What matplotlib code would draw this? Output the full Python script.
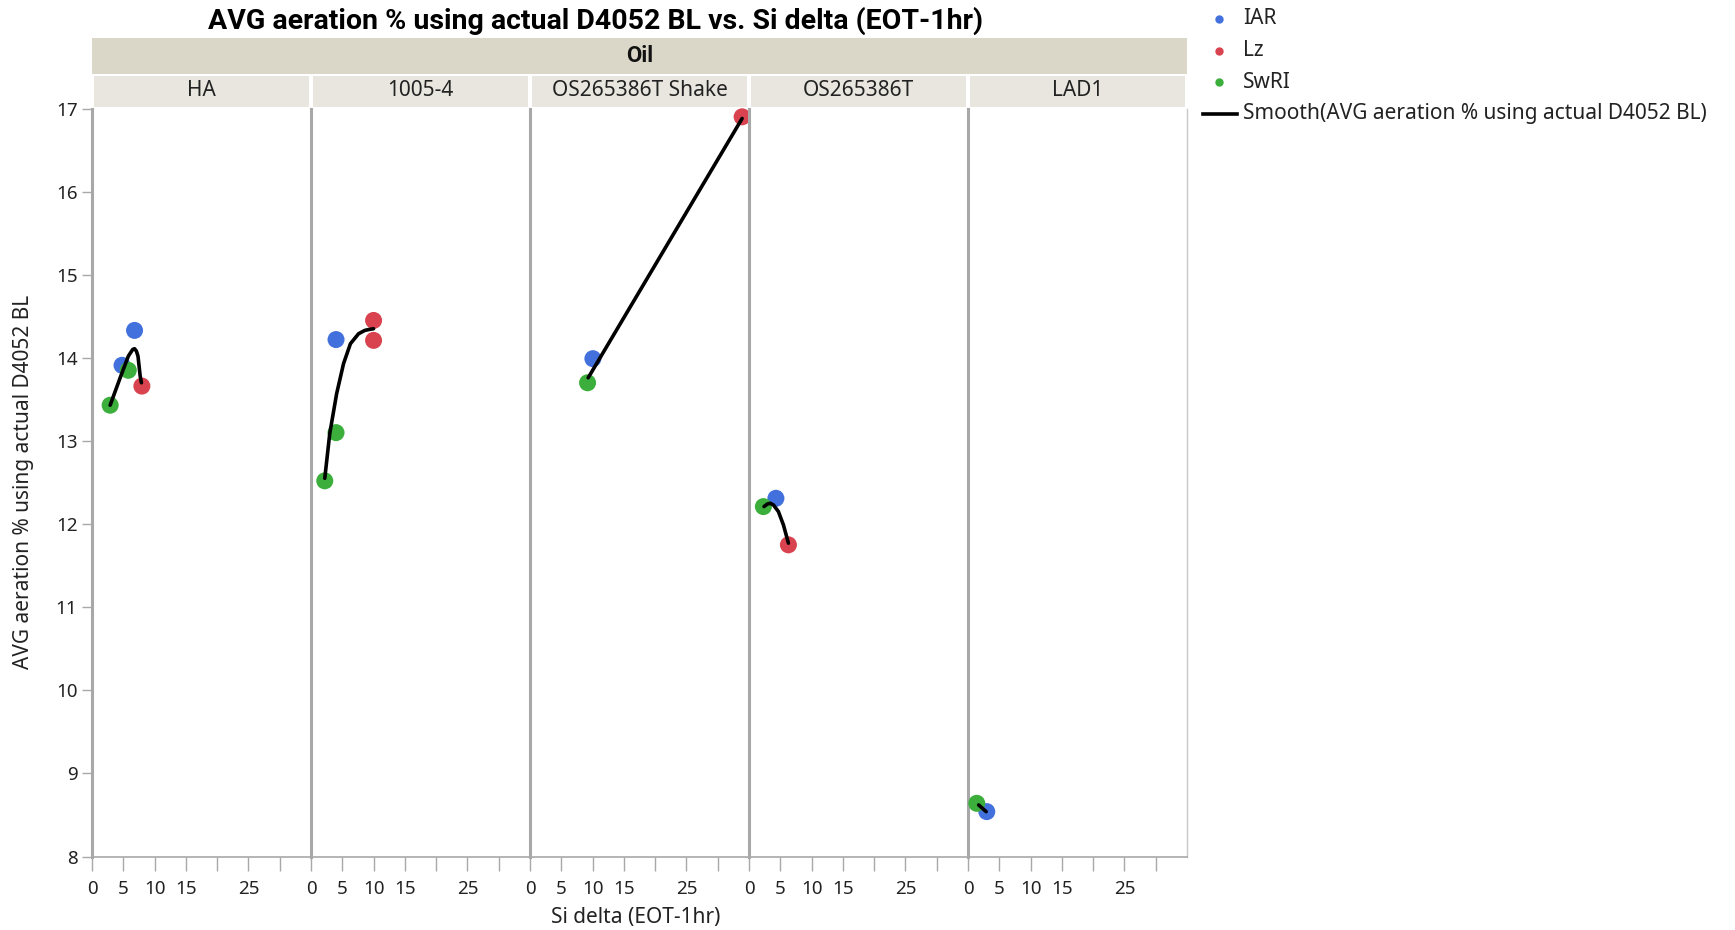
import matplotlib
matplotlib.use("Agg")
import matplotlib.pyplot as plt
from matplotlib.lines import Line2D
from matplotlib.patches import Rectangle
from matplotlib.ticker import FixedLocator

plt.rcParams['font.family'] = ['Noto Sans', 'DejaVu Sans']

# panels (Oil)
panels = ["HA", "1005-4", "OS265386T Shake", "OS265386T", "LAD1"]

# points by site
iar_panel = ["HA", "HA", "1005-4", "OS265386T Shake", "OS265386T", "LAD1"]
iar_x = [4.8, 6.8, 4.0, 10.05, 4.3, 3.0]
iar_y = [13.91, 14.33, 14.22, 13.99, 12.31, 8.54]

lz_panel = ["HA", "1005-4", "1005-4", "OS265386T Shake", "OS265386T"]
lz_x = [7.97, 10.0, 10.0, 33.9, 6.3]
lz_y = [13.66, 14.45, 14.21, 16.90, 11.75]

swri_panel = ["HA", "HA", "1005-4", "1005-4", "OS265386T Shake", "OS265386T", "LAD1"]
swri_x = [2.9, 5.8, 2.2, 4.0, 9.2, 2.3, 1.4]
swri_y = [13.43, 13.85, 12.52, 13.10, 13.70, 12.21, 8.64]

# smooth curve
smooth_ha_x = [2.9, 4.5, 5.8, 6.5, 6.8, 7.1, 7.35, 7.7, 7.9]
smooth_ha_y = [13.43, 13.76, 14.02, 14.10, 14.11, 14.08, 14.02, 13.78, 13.70]
smooth_1005_x = [2.2, 3.0, 4.1, 5.2, 6.3, 7.6, 8.6, 9.2, 10.0]
smooth_1005_y = [12.55, 13.09, 13.57, 13.93, 14.17, 14.29, 14.33, 14.34, 14.35]
smooth_shake_x = [9.3, 33.9]
smooth_shake_y = [13.76, 16.88]
smooth_os_x = [2.4, 2.9, 3.4, 3.9, 4.7, 5.5, 6.3]
smooth_os_y = [12.21, 12.24, 12.25, 12.23, 12.15, 11.99, 11.77]
smooth_lad_x = [1.7, 2.9]
smooth_lad_y = [8.62, 8.54]

smooth_x = [smooth_ha_x, smooth_1005_x, smooth_shake_x, smooth_os_x, smooth_lad_x]
smooth_y = [smooth_ha_y, smooth_1005_y, smooth_shake_y, smooth_os_y, smooth_lad_y]

sites = ["IAR", "Lz", "SwRI"]
site_colors = ["#4270DD", "#D8434F", "#3BAE3B"]

W, H = 1735, 930
fig = plt.figure(figsize=(W / 100, H / 100), dpi=100)


def rect(l, t, r, b):
    return [l / W, 1 - b / H, (r - l) / W, (b - t) / H]


left, right, top, bottom = 92, 1187, 108.5, 856.5
pw = (right - left) / 5
grid = "#A8A8A8"
txt = "#222222"

axes = []
for i, name in enumerate(panels):
    ax = fig.add_axes(rect(left + i * pw, top, left + (i + 1) * pw, bottom))
    ax.set_xlim(0, 35)
    ax.set_ylim(8, 17)
    for s in ["top", "right"]:
        ax.spines[s].set_visible(False)
    ax.spines["left"].set_color(grid)
    ax.spines["left"].set_linewidth(2.2)
    ax.spines["bottom"].set_color(grid)
    ax.spines["bottom"].set_linewidth(1.2)
    if i == 4:
        ax.spines["right"].set_visible(True)
        ax.spines["right"].set_color("#C8C8C8")
        ax.spines["right"].set_linewidth(1.0)
    ax.xaxis.set_major_locator(FixedLocator([0, 5, 10, 15, 25]))
    ax.xaxis.set_minor_locator(FixedLocator([20, 30]))
    ax.tick_params(axis="x", which="both", direction="out", length=10,
                   color=grid, width=1, labelsize=13.5, pad=7, labelcolor=txt)
    if i == 0:
        ax.set_yticks(range(8, 18))
        ax.tick_params(axis="y", direction="out", length=7, color=grid,
                       width=1, labelsize=13.5, labelcolor=txt)
    else:
        ax.set_yticks([])
    axes.append(ax)

for site, color, pan, xs, ys in zip(
        sites, site_colors,
        [iar_panel, lz_panel, swri_panel],
        [iar_x, lz_x, swri_x],
        [iar_y, lz_y, swri_y]):
    for p, x, y in zip(pan, xs, ys):
        axes[panels.index(p)].scatter(x, y, s=150, color=color,
                                      edgecolors="none", zorder=3,
                                      clip_on=False)

for ax, sx, sy in zip(axes, smooth_x, smooth_y):
    ax.plot(sx, sy, color="black", lw=2.6, zorder=4,
            solid_capstyle="round", clip_on=False)

# strips
fig.patches.append(Rectangle((left / W, 1 - 74.5 / H), (right - left) / W,
                             (74.5 - 38.5) / H, transform=fig.transFigure,
                             facecolor="#DAD7C9", edgecolor="none"))
fig.text((left + right) / 2 / W, 1 - 56 / H, "Oil", ha="center", va="center",
         fontsize=16, fontweight="bold", color="#111111",
         family=["Roboto", "DejaVu Sans"])
for i, name in enumerate(panels):
    l = left + i * pw + 2
    r = left + (i + 1) * pw - 2
    fig.patches.append(Rectangle((l / W, 1 - 107 / H), (r - l) / W,
                                 (107 - 76) / H, transform=fig.transFigure,
                                 facecolor="#E8E6DE", edgecolor="none"))
    fig.text((l + r) / 2 / W, 1 - 91 / H, name, ha="center", va="center",
             fontsize=15, color=txt)

fig.text(595 / W, 1 - 21 / H,
         "AVG aeration % using actual D4052 BL vs. Si delta (EOT-1hr)",
         ha="center", va="center", fontsize=20.5, fontweight="bold",
         family=["Roboto", "DejaVu Sans"])
fig.text(636 / W, 1 - 917 / H, "Si delta (EOT-1hr)", ha="center",
         va="center", fontsize=15, color=txt)
fig.text(24 / W, 1 - 482 / H, "AVG aeration % using actual D4052 BL",
         ha="center", va="center", rotation=90, fontsize=15, color=txt)

# legend
leg_y = [19, 51, 82]
for site, color, yy in zip(sites, site_colors, leg_y):
    fig.add_artist(Line2D([1219 / W], [1 - yy / H], marker="o", ms=5,
                          color=color, transform=fig.transFigure))
    fig.text(1243 / W, 1 - yy / H, site, ha="left", va="center",
             fontsize=15, color=txt)
fig.add_artist(Line2D([1203 / W, 1237 / W], [1 - 114 / H, 1 - 114 / H],
                      color="black", lw=2.6, transform=fig.transFigure))
fig.text(1243 / W, 1 - 114 / H,
         "Smooth(AVG aeration % using actual D4052 BL)", ha="left",
         va="center", fontsize=15, color=txt)

fig.savefig("out.png", dpi=100)
